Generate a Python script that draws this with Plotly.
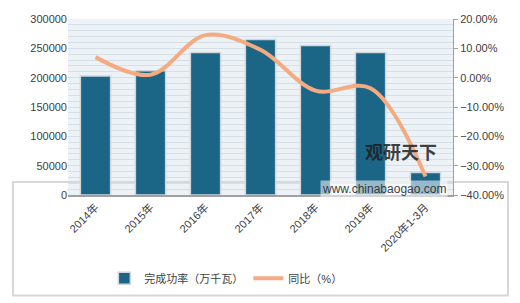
import plotly.graph_objects as go

categories = ["2014年", "2015年", "2016年", "2017年", "2018年", "2019年", "2020年1-3月"]
capacity = [203000, 212000, 243000, 265000, 255000, 243000, 38500]
yoy = [7.0, 1.0, 14.5, 9.5, -4.4, -3.6, -33.7]

FONT = "Liberation Sans, Noto Sans CJK SC, sans-serif"

fig = go.Figure()
fig.add_trace(go.Bar(
    x=categories, y=capacity, name="完成功率（万千瓦）",
    marker=dict(color="#1B6587", line=dict(color="#D0D6DC", width=1.5)),
    width=0.55,
))
fig.add_trace(go.Scatter(
    x=categories, y=yoy, name="同比（%）", yaxis="y2", mode="lines",
    line=dict(color="#F4AB82", width=4, shape="spline", smoothing=1.0),
))

fig.update_layout(
    width=520, height=303,
    margin=dict(l=68, r=67, t=19, b=107),
    paper_bgcolor="white",
    plot_bgcolor="#EDF2F6",
    font=dict(family=FONT, size=11, color="#404040"),
    showlegend=True,
    legend=dict(orientation="h", x=0.41, xanchor="center", y=-0.465, yanchor="middle",
                bgcolor="white", font=dict(size=11, color="#404040"),
                itemwidth=30, tracegroupgap=0),
    bargap=0.45,
    xaxis=dict(type="category", tickangle=-45, showline=True, linecolor="#A0A0A0",
               linewidth=1.5, ticks="", tickfont=dict(size=11, color="#404040"),
               showgrid=False),
    yaxis=dict(range=[0, 300000], dtick=50000, showgrid=True, gridcolor="#D6DEE6",
               gridwidth=1, zeroline=False, showline=False, ticks="",
               tickformat="d", tickfont=dict(size=11),
               minor=dict(dtick=10000, showgrid=True, gridcolor="#D6DEE6", gridwidth=1)),
    yaxis2=dict(range=[-40, 20], dtick=10, overlaying="y", side="right",
                showgrid=False, zeroline=False, showline=True, linecolor="#A0A0A0",
                ticks="outside", ticklen=4, tickcolor="#A0A0A0",
                tickformat=".2f", ticksuffix="%", tickfont=dict(size=11)),
    shapes=[dict(type="rect", xref="paper", yref="paper",
                 x0=-55/385, x1=440/385, y0=-101/177, y1=13/177,
                 line=dict(color="#D8D8D8", width=2), layer="below")],
    annotations=[
        dict(text="<b>观研天下</b>", xref="paper", yref="paper", x=333/385, y=29/177,
             showarrow=False, font=dict(size=18, color="rgba(30,30,30,0.85)",
                                         family="Noto Sans CJK SC"), xanchor="center"),
        dict(text="www.chinabaogao.com", xref="paper", yref="paper", x=316/385, y=6/177,
             showarrow=False, font=dict(size=12, color="rgba(40,40,40,0.9)"),
             bgcolor="rgba(255,255,255,0.55)", xanchor="center", yanchor="middle"),
    ],
)

fig.write_html("out.html")
